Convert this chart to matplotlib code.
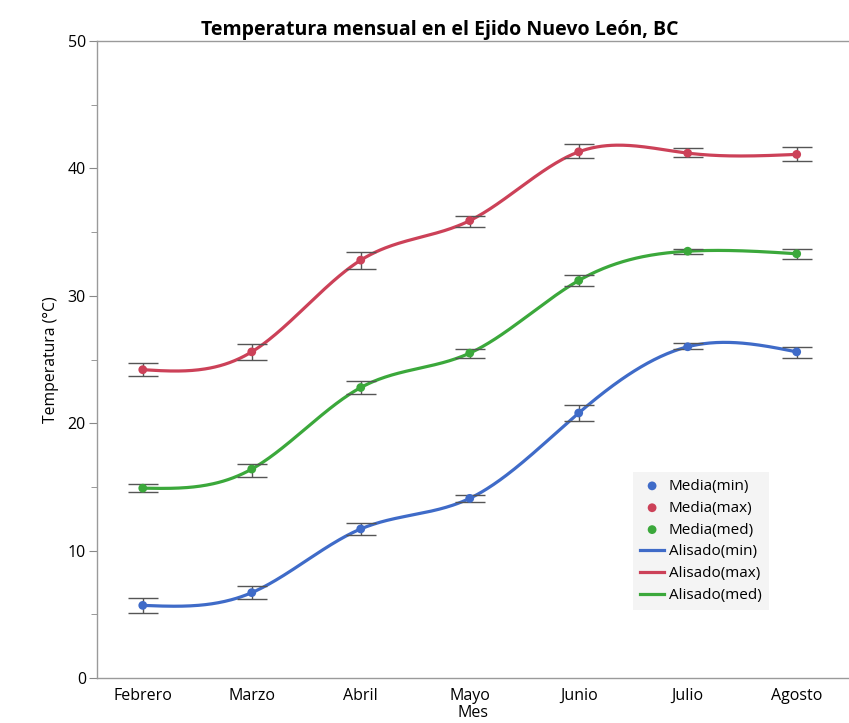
import numpy as np
import matplotlib
matplotlib.use("Agg")
import matplotlib.pyplot as plt
from matplotlib.ticker import MultipleLocator

months = ["Febrero", "Marzo", "Abril", "Mayo", "Junio", "Julio", "Agosto"]

mean_min = [5.7, 6.7, 11.7, 14.1, 20.8, 26.0, 25.6]
low_min = [5.1, 6.2, 11.2, 13.8, 20.2, 25.8, 25.1]
high_min = [6.3, 7.2, 12.2, 14.4, 21.4, 26.3, 26.0]

mean_max = [24.2, 25.6, 32.8, 35.9, 41.3, 41.2, 41.1]
low_max = [23.7, 25.0, 32.1, 35.4, 40.8, 40.9, 40.6]
high_max = [24.7, 26.2, 33.4, 36.3, 41.9, 41.6, 41.7]

mean_med = [14.9, 16.4, 22.8, 25.5, 31.2, 33.5, 33.3]
low_med = [14.6, 15.8, 22.3, 25.1, 30.8, 33.3, 32.9]
high_med = [15.2, 16.8, 23.3, 25.8, 31.6, 33.7, 33.7]

C_MIN = "#3f6bc8"
C_MAX = "#cc4158"
C_MED = "#3ba83b"


def natural_spline(x, y, xs):
    x = np.asarray(x, float)
    y = np.asarray(y, float)
    n = len(x)
    h = np.diff(x)
    A = np.zeros((n, n))
    b = np.zeros(n)
    A[0, 0] = 1
    A[-1, -1] = 1
    for i in range(1, n - 1):
        A[i, i - 1] = h[i - 1]
        A[i, i] = 2 * (h[i - 1] + h[i])
        A[i, i + 1] = h[i]
        b[i] = 6 * ((y[i + 1] - y[i]) / h[i] - (y[i] - y[i - 1]) / h[i - 1])
    M = np.linalg.solve(A, b)
    out = np.empty_like(xs)
    for k, xv in enumerate(xs):
        i = min(max(np.searchsorted(x, xv) - 1, 0), n - 2)
        t1 = x[i + 1] - xv
        t0 = xv - x[i]
        out[k] = (M[i] * t1 ** 3 / (6 * h[i]) + M[i + 1] * t0 ** 3 / (6 * h[i])
                  + (y[i] / h[i] - M[i] * h[i] / 6) * t1
                  + (y[i + 1] / h[i] - M[i + 1] * h[i] / 6) * t0)
    return out


plt.rcParams['font.family'] = ['Open Sans', 'DejaVu Sans']

fig = plt.figure(figsize=(8.49, 7.23), dpi=100)
ax = fig.add_axes([97 / 849, 1 - 678 / 723, 1 - 97 / 849, (678 - 41) / 723])

x = np.arange(len(months))
xs = np.linspace(0, len(months) - 1, 400)

series = [
    ("min", mean_min, low_min, high_min, C_MIN),
    ("max", mean_max, low_max, high_max, C_MAX),
    ("med", mean_med, low_med, high_med, C_MED),
]

dot_handles = []
line_handles = []
for name, m, lo, hi, c in series:
    m = np.array(m); lo = np.array(lo); hi = np.array(hi)
    ln, = ax.plot(xs, natural_spline(x, m, xs), color=c, lw=2.3, zorder=2,
                  label=f"Alisado({name})")
    ax.errorbar(x, m, yerr=[m - lo, hi - m], fmt='none', ecolor="#555555",
                elinewidth=1.0, capsize=11, capthick=1.0, zorder=3)
    dt = ax.scatter(x, m, s=40, color=c, zorder=4, label=f"Media({name})",
                    edgecolors='none')
    dot_handles.append(dt)
    line_handles.append(ln)

ax.set_xlim(-0.42, 6.48)
ax.set_ylim(0, 50)
ax.set_xticks(x)
ax.set_xticklabels(months, fontsize=11.5)
ax.tick_params(axis='x', length=0, pad=7)
ax.yaxis.set_major_locator(MultipleLocator(10))
ax.yaxis.set_minor_locator(MultipleLocator(5))
ax.tick_params(axis='y', which='major', length=6, color="#888888", labelsize=11.5, pad=2)
ax.tick_params(axis='y', which='minor', length=4, color="#888888")

for s in ["left", "bottom", "top"]:
    ax.spines[s].set_color("#9a9a9a")
    ax.spines[s].set_linewidth(1.0)
ax.spines["right"].set_visible(False)

ax.set_title("Temperatura mensual en el Ejido Nuevo León, BC", fontsize=14,
             fontweight='bold', pad=4, x=(440 - 97) / 752)
ax.set_ylabel("Temperatura (°C)", fontsize=11.3, labelpad=6)
ax.set_xlabel("Mes", fontsize=11.5, labelpad=1)

leg = ax.legend(handles=dot_handles + line_handles, loc='upper left',
                bbox_to_anchor=((633 - 97) / 752, (678 - 472) / 637),
                fontsize=11, frameon=True, facecolor="#f4f4f4", edgecolor="none",
                framealpha=1.0, handlelength=1.6, handletextpad=0.3,
                labelspacing=0.45, borderpad=0.45, borderaxespad=0, fancybox=False)

fig.savefig("out.png", dpi=100)
